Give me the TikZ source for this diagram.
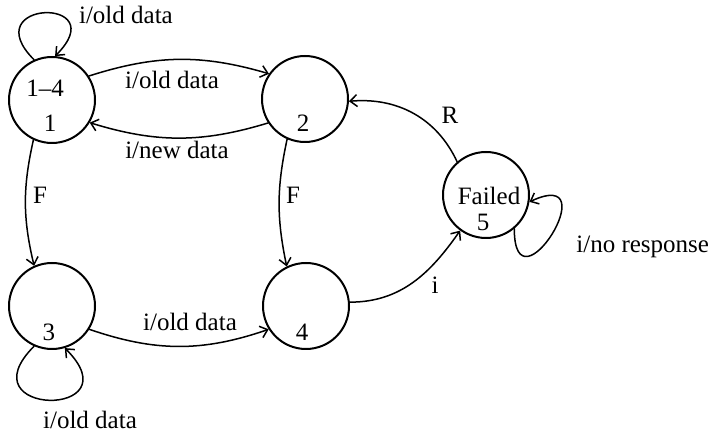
\documentclass[tikz,border=0pt]{standalone}
\usepackage{fontspec}
\setmainfont{Liberation Serif}
\usetikzlibrary{arrows.meta}
\tikzset{machine/.style={
  x=0.5pt,y=0.5pt,
  >={Straight Barb[length=3.5pt,width=6pt]},line join=round,line cap=round,
  font=\fontsize{12.5}{15}\selectfont
},
state/.style={draw,circle,line width=1pt,minimum size=43pt,inner sep=0pt},
trans/.style={->,line width=0.75pt}}

\begin{document}
\begin{tikzpicture}[machine]
  \useasboundingbox (0,0) rectangle (711,432);
  \node[state] (S1) at (52,332) {};
  \node[state] (S2) at (305,333) {};
  \node[state] (S3) at (52,126) {};
  \node[state] (S4) at (306,126) {};
  \node[state] (S5) at (486,237) {};
  \node (t1a) at (45,344) {1--4};
  \node (t1b) at (50,309) {1};
  \node (t2) at (303,309) {2};
  \node (t3) at (49,100) {3};
  \node (t4) at (302,100) {4};
  \node (t5a) at (489,236) {Failed};
  \node (t5b) at (483,210) {5};
  \draw[trans] (S1.33) to[bend left=17] (S2.145);
  \draw[trans] (S2.-147) to[bend left=17] (S1.-31);
  \draw[trans] (S1.-115) to[bend right=13] (S3.114);
  \draw[trans] (S2.-114) to[bend right=12] (S4.116);
  \draw[trans] (S3.-32) to[bend right=19] (S4.-148);
  \draw[trans] (S4.5) to[out=0,in=-125] (S5.-126);
  \draw[trans] (S5.131) to[out=115,in=5] (S2.-3);
  \draw[trans] (S1.114) .. controls +(135:85) and +(45:85) .. (S1.86);
  \draw[trans] (S3.-114) .. controls +(-135:100) and +(-45:100) .. (S3.-73);
  \draw[trans] (S5.-50) .. controls +(-90:88) and +(25:88) .. (S5.-9);
  \node[anchor=west] (l11) at (72,417) {i/old data};
  \node (l12) at (172,352) {i/old data};
  \node (l21) at (177,282) {i/new data};
  \node (lF1) at (40,237) {F};
  \node (lF2) at (293,237) {F};
  \node (l34) at (190,110) {i/old data};
  \node (l33) at (90,12) {i/old data};
  \node (l45) at (435,147) {i};
  \node (l52) at (450,317) {R};
  \node[anchor=west,inner sep=0pt] (l55) at (576,185) {i/no response};
\end{tikzpicture}
\end{document}
